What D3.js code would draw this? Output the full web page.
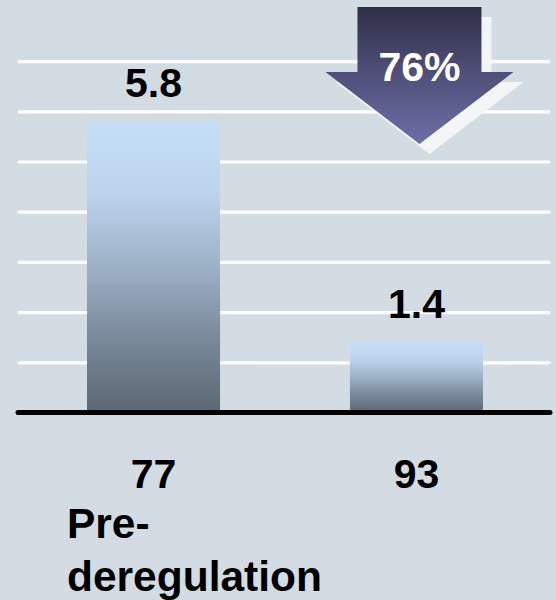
<!DOCTYPE html>
<html>
<head>
<meta charset="utf-8">
<script src="https://cdn.jsdelivr.net/npm/d3@7"></script>
<style>
html, body { margin: 0; padding: 0; background: #d4dce3; }
svg { display: block; }
text { font-family: "Liberation Sans", Arial, sans-serif; font-weight: bold; }
</style>
</head>
<body>
<svg id="chart" width="556" height="600"></svg>
<script>
// ---- data ----
const categories = ["77", "93"];
const values = [5.8, 1.4];
const subLabels = ["Pre-\nderegulation", ""];
const gridTicks = [1, 2, 3, 4, 5, 6, 7];

const W = 556, H = 600;
const svg = d3.select("#chart");

// scales
const y = d3.scaleLinear().domain([0, 8]).range([412.5, 412.5 - 8 * 50.2]);
const x = d3.scaleBand().domain(categories).range([20, 550])
  .paddingInner(0.494).paddingOuter(0.2548);

const defs = svg.append("defs");
const barGrad = defs.append("linearGradient").attr("id", "barGrad")
  .attr("x1", 0).attr("y1", 0).attr("x2", 0).attr("y2", 1);
[[0, "#c5dff9"], [0.25, "#bdd3ec"], [0.5, "#9db1c6"], [0.72, "#7d8d9e"], [1, "#5b6774"]]
  .forEach(([o, c]) => barGrad.append("stop").attr("offset", o).attr("stop-color", c));

const arrowGrad = defs.append("linearGradient").attr("id", "arrowGrad")
  .attr("x1", 0).attr("y1", 0).attr("x2", 0).attr("y2", 1);
[[0, "#2f2f47"], [0.45, "#4d4d76"], [1, "#6e6ea8"]]
  .forEach(([o, c]) => arrowGrad.append("stop").attr("offset", o).attr("stop-color", c));

// speckle filter for the arrow shadow
const f = defs.append("filter").attr("id", "speckle").attr("x", 0).attr("y", 0).attr("width", 1).attr("height", 1);
f.append("feTurbulence").attr("type", "fractalNoise").attr("baseFrequency", 0.9).attr("numOctaves", 1).attr("seed", 3).attr("result", "noise");
f.append("feColorMatrix").attr("in", "noise").attr("type", "matrix")
  .attr("values", "0 0 0 0 0.90  0 0 0 0 0.91  0 0 0 0 0.93  0 0 0 0 1").attr("result", "col");
f.append("feComposite").attr("in", "col").attr("in2", "SourceGraphic").attr("operator", "in");

// gridlines
const axisG = svg.append("g").attr("class", "grid")
  .attr("transform", "translate(19,0)")
  .call(d3.axisLeft(y).tickValues(gridTicks).tickSize(-530).tickFormat(""));
axisG.select(".domain").remove();
axisG.selectAll(".tick line").attr("stroke", "#ffffff").attr("stroke-width", 3.2).attr("stroke-linecap", "round");

// bars
svg.append("g").selectAll("rect").data(categories).join("rect")
  .attr("x", d => x(d))
  .attr("y", (d, i) => y(values[i]))
  .attr("width", x.bandwidth())
  .attr("height", (d, i) => y(0) - y(values[i]))
  .attr("fill", "url(#barGrad)");

// baseline
svg.append("line")
  .attr("x1", 18).attr("x2", 550).attr("y1", y(0)).attr("y2", y(0))
  .attr("stroke", "#000").attr("stroke-width", 5).attr("stroke-linecap", "round");

// value labels
svg.append("g").selectAll("text").data(categories).join("text")
  .attr("x", d => x(d) + x.bandwidth() / 2)
  .attr("y", (d, i) => y(values[i]) - 24)
  .attr("text-anchor", "middle")
  .attr("font-size", 41)
  .attr("fill", "#000")
  .text((d, i) => values[i].toFixed(1));

// category labels
svg.append("g").selectAll("text").data(categories).join("text")
  .attr("x", d => x(d) + x.bandwidth() / 2)
  .attr("y", 488)
  .attr("text-anchor", "middle")
  .attr("font-size", 41)
  .attr("fill", "#000")
  .text(d => d);

subLabels.forEach((s, i) => {
  if (!s) return;
  const t = svg.append("text")
    .attr("x", x(categories[i]) - 20)
    .attr("y", 538)
    .attr("font-size", 42.5)
    .attr("fill", "#000");
  s.split("\n").forEach((line, j) => {
    t.append("tspan").attr("x", x(categories[i]) - 20).attr("dy", j === 0 ? 0 : 53).text(line);
  });
});

// reduction arrow
const pct = Math.round((values[0] - values[1]) / values[0] * 100);
const cx = x(categories[1]) + x.bandwidth() / 2 + 3;
function arrowPath(dx, dy) {
  const p = [
    [cx - 62, 7], [cx + 62, 7], [cx + 62, 72], [cx + 94, 72],
    [cx, 144], [cx - 94, 72], [cx - 62, 72]
  ];
  return "M" + p.map(q => (q[0] + dx) + "," + (q[1] + dy)).join("L") + "Z";
}
svg.append("path").attr("d", arrowPath(10, 10)).attr("fill", "#eef1f4").attr("filter", "url(#speckle)");
svg.append("path").attr("d", arrowPath(0, 0)).attr("fill", "url(#arrowGrad)");
svg.append("text")
  .attr("x", cx).attr("y", 81)
  .attr("text-anchor", "middle")
  .attr("font-size", 41)
  .attr("fill", "#ffffff")
  .text(pct + "%");
</script>
</body>
</html>
